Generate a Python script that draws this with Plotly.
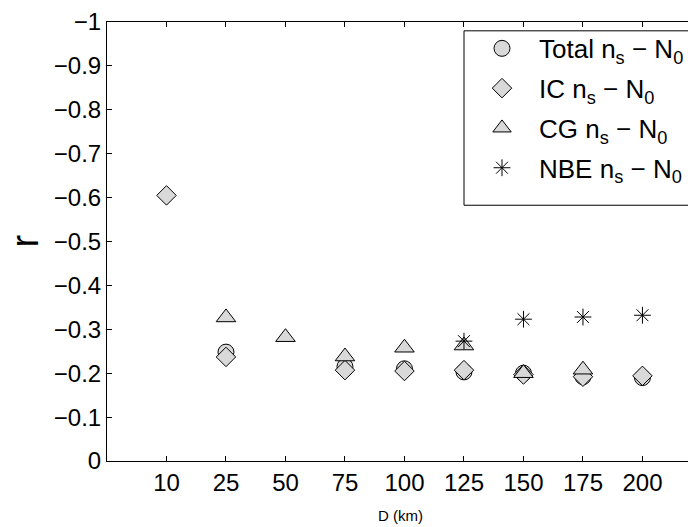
import plotly.graph_objects as go

D = ["10", "25", "50", "75", "100", "125", "150", "175", "200"]
total = [None, -0.248, None, -0.215, -0.21, -0.203, -0.2, -0.192, -0.19]
ic = [-0.605, -0.237, None, -0.207, -0.205, -0.207, -0.197, -0.192, -0.194]
cg = [None, -0.327, -0.282, -0.238, -0.258, -0.263, -0.2, -0.208, None]
nbe = [None, None, None, None, None, -0.273, -0.323, -0.328, -0.332]
yticks = [0, -0.1, -0.2, -0.3, -0.4, -0.5, -0.6, -0.7, -0.8, -0.9, -1]
ytext = ["0", "−0.1", "−0.2", "−0.3", "−0.4", "−0.5", "−0.6", "−0.7", "−0.8", "−0.9", "−1"]

FONT = "Liberation Sans, Arial, Helvetica, sans-serif"
GRAY = "rgb(217,217,217)"

# page body has an 8px margin; figure is sized so the plot lands where the reference has it
OFF = 8
W, H = 696 - OFF, 527 - OFF
ML, MT, MB = 107 - OFF, 13 - OFF, 66
PW = W - ML
PH = H - MT - MB


def px(xs):  # screen x -> paper x
    return (xs - OFF - ML) / PW


def py(ys):  # screen y -> paper y
    return 1 - (ys - OFF - MT) / PH


fig = go.Figure()
series = [
    ("Total n<sub>s</sub> − N<sub>0</sub>", total, "circle", 16),
    ("IC n<sub>s</sub> − N<sub>0</sub>", ic, "diamond", 15),
    ("CG n<sub>s</sub> − N<sub>0</sub>", cg, "triangle-up", 17),
]
for i, (name, vals, sym, sz) in enumerate(series):
    fig.add_trace(go.Scatter(
        x=D, y=vals, mode="markers", name=name, legendgroup=f"g{i}",
        marker=dict(symbol=sym, size=sz, color=GRAY, line=dict(color="black", width=1)),
    ))
fig.add_trace(go.Scatter(
    x=D, y=nbe, mode="markers", name="NBE n<sub>s</sub> − N<sub>0</sub>", legendgroup="g3",
    marker=dict(symbol="asterisk-open", size=14, color="black", line=dict(color="black", width=1)),
))

fig.update_layout(
    width=W, height=H,
    margin=dict(l=ML, r=0, t=MT, b=MB),
    paper_bgcolor="white", plot_bgcolor="white",
    font=dict(family=FONT, color="black", size=24),
    showlegend=True,
    legend=dict(
        x=px(465), y=py(16), xanchor="left", yanchor="top",
        bgcolor="rgba(0,0,0,0)", borderwidth=0,
        font=dict(size=26, family=FONT), itemwidth=64, tracegroupgap=3,
    ),
    shapes=[
        dict(type="rect", xref="paper", yref="paper", layer="above",
             x0=px(464), x1=px(693), y0=py(200), y1=py(22),
             line=dict(color="black", width=1), fillcolor="white"),
    ],
    xaxis=dict(
        type="category", categoryorder="array", categoryarray=D,
        range=[-1, 8.9], showgrid=False, zeroline=False,
        showline=True, linecolor="black", linewidth=1, mirror="ticks",
        ticks="inside", ticklen=5, tickcolor="black",
        tickfont=dict(size=24, family=FONT),
    ),
    yaxis=dict(
        range=[0, -1], showgrid=False, zeroline=False,
        showline=True, linecolor="black", linewidth=1,
        ticks="inside", ticklen=5, tickcolor="black",
        tickvals=yticks, ticktext=ytext, ticklabeloverflow="allow",
        tickfont=dict(size=24, family=FONT),
    ),
    annotations=[
        dict(text="r", xref="paper", yref="paper", x=px(24), y=0.5,
             xanchor="center", yanchor="middle", showarrow=False, textangle=-90,
             font=dict(size=38, family=FONT)),
        dict(text="D (km)", xref="paper", yref="paper", x=px(400),
             y=py(517), xanchor="center", yanchor="middle", showarrow=False,
             font=dict(size=15, family=FONT)),
    ],
)

fig.write_html("out.html")
